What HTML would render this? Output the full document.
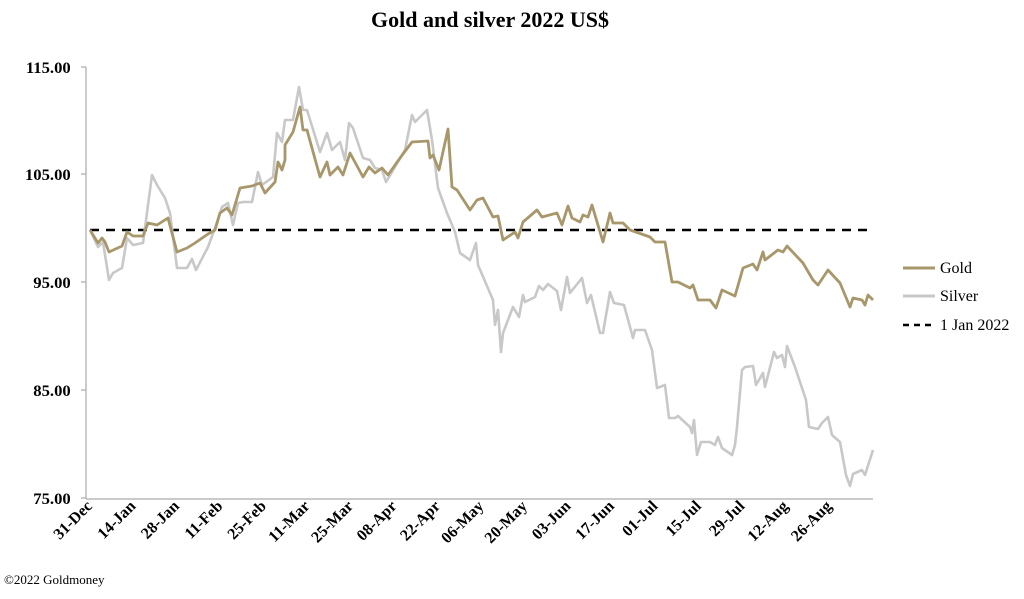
<!DOCTYPE html>
<html><head><meta charset="utf-8"><style>
body{margin:0;background:#fff;width:1024px;height:594px;overflow:hidden;font-family:"Liberation Serif",serif}
</style></head><body>
<svg width="1024" height="594" xmlns="http://www.w3.org/2000/svg" font-family="Liberation Serif, serif">
<text x="490" y="27" text-anchor="middle" font-size="22" font-weight="bold">Gold and silver 2022  US$</text>
<g stroke="#aaa" stroke-width="1.2">
<line x1="86" y1="67" x2="86" y2="499"/>
<line x1="86" y1="499" x2="873" y2="499"/>
<line x1="81" y1="67" x2="86" y2="67"/><line x1="81" y1="174" x2="86" y2="174"/><line x1="81" y1="282" x2="86" y2="282"/><line x1="81" y1="390" x2="86" y2="390"/><line x1="81" y1="498" x2="86" y2="498"/>
</g>
<g font-size="16" font-weight="bold" text-anchor="end" transform="scale(1.04,1)">
<text x="68" y="73">115.00</text><text x="68" y="180">105.00</text><text x="68" y="288">95.00</text><text x="68" y="396">85.00</text><text x="68" y="504">75.00</text>
</g>
<g font-size="16" font-weight="bold" text-anchor="end">
<text transform="translate(93,507) rotate(-45)">31-Dec</text>
<text transform="translate(136.5,507) rotate(-45)">14-Jan</text>
<text transform="translate(180,507) rotate(-45)">28-Jan</text>
<text transform="translate(223.5,507) rotate(-45)">11-Feb</text>
<text transform="translate(267,507) rotate(-45)">25-Feb</text>
<text transform="translate(310.5,507) rotate(-45)">11-Mar</text>
<text transform="translate(354,507) rotate(-45)">25-Mar</text>
<text transform="translate(397.5,507) rotate(-45)">08-Apr</text>
<text transform="translate(441,507) rotate(-45)">22-Apr</text>
<text transform="translate(484.5,507) rotate(-45)">06-May</text>
<text transform="translate(528,507) rotate(-45)">20-May</text>
<text transform="translate(571.5,507) rotate(-45)">03-Jun</text>
<text transform="translate(615,507) rotate(-45)">17-Jun</text>
<text transform="translate(658.5,507) rotate(-45)">01-Jul</text>
<text transform="translate(702,507) rotate(-45)">15-Jul</text>
<text transform="translate(745.5,507) rotate(-45)">29-Jul</text>
<text transform="translate(789,507) rotate(-45)">12-Aug</text>
<text transform="translate(832.5,507) rotate(-45)">26-Aug</text>
</g>
<line x1="90" y1="230" x2="873" y2="230" stroke="#000" stroke-width="2.5" stroke-dasharray="9,7"/>
<polyline fill="none" stroke="#c8c8c8" stroke-width="2.6" stroke-linejoin="round" points="90,230 98,247 103,242 109,280 113,273 122,268 127,238 133,245 143,243 152,175 157,185 165,198 170,213 177,268 187,268 192,259 196,270 208,247 215,228 222,207 228,203 233,225 238,203 243,202 252,202 258,172 262,185 273,177 277,133 282,142 285,120 293,120 299,87 303,110 307,110 320,152 327,133 332,150 340,142 345,160 349,123 353,128 363,158 370,160 375,168 382,170 386,182 392,172 405,150 412,115 415,122 427,110 432,140 438,188 447,213 455,232 460,253 470,260 476,243 478,265 493,300 495,325 498,310 501,352 503,333 513,307 519,317 523,295 525,302 535,297 539,286 543,290 548,284 557,291 561,310 567,277 570,293 582,278 587,303 591,295 600,333 603,333 610,292 614,303 624,305 633,338 635,330 645,330 652,350 657,388 665,385 669,418 675,418 678,416 690,427 692,433 694,420 697,455 701,442 710,442 715,445 718,437 722,448 732,455 735,445 737,427 742,370 745,367 753,366 756,385 763,373 765,387 774,352 777,358 782,355 785,367 787,346 795,367 802,388 806,400 809,427 818,429 822,423 828,417 832,435 840,442 846,475 850,486 853,474 862,470 865,475 873,450"/>
<polyline fill="none" stroke="#a8976a" stroke-width="2.8" stroke-linejoin="round" points="90,230 98,243 102,238 105,242 109,252 122,246 127,232 133,236 143,236 148,223 157,225 168,218 177,252 187,248 195,243 208,234 215,230 220,213 227,208 232,215 240,188 252,186 260,183 265,193 275,182 278,162 282,170 285,160 285,145 293,132 300,107 303,130 307,130 320,177 327,162 330,175 338,167 343,175 350,153 363,177 369,167 375,173 382,168 388,175 400,158 412,142 428,141 430,158 433,155 439,170 448,129 452,187 457,190 470,210 477,200 483,198 493,217 498,216 503,240 515,232 518,238 523,222 537,210 542,217 557,213 562,225 568,206 572,218 580,222 583,215 588,217 592,205 603,242 610,213 613,223 623,223 630,230 650,237 655,242 665,242 672,282 678,282 690,288 693,285 698,300 710,300 716,308 722,290 735,296 743,268 753,264 757,270 763,252 765,260 778,250 783,252 787,246 803,263 813,280 818,285 828,270 840,283 850,307 853,298 862,300 865,305 868,295 873,300"/>
<line x1="903" y1="268" x2="935" y2="268" stroke="#a8976a" stroke-width="3"/>
<line x1="903" y1="296" x2="935" y2="296" stroke="#c8c8c8" stroke-width="3"/>
<line x1="903" y1="325" x2="935" y2="325" stroke="#000" stroke-width="2.5" stroke-dasharray="6,5"/>
<g font-size="16"><text x="940" y="273">Gold</text><text x="940" y="301">Silver</text><text x="940" y="330">1 Jan 2022</text></g>
<text x="4" y="584" font-size="13">©2022 Goldmoney</text>
</svg>
</body></html>
